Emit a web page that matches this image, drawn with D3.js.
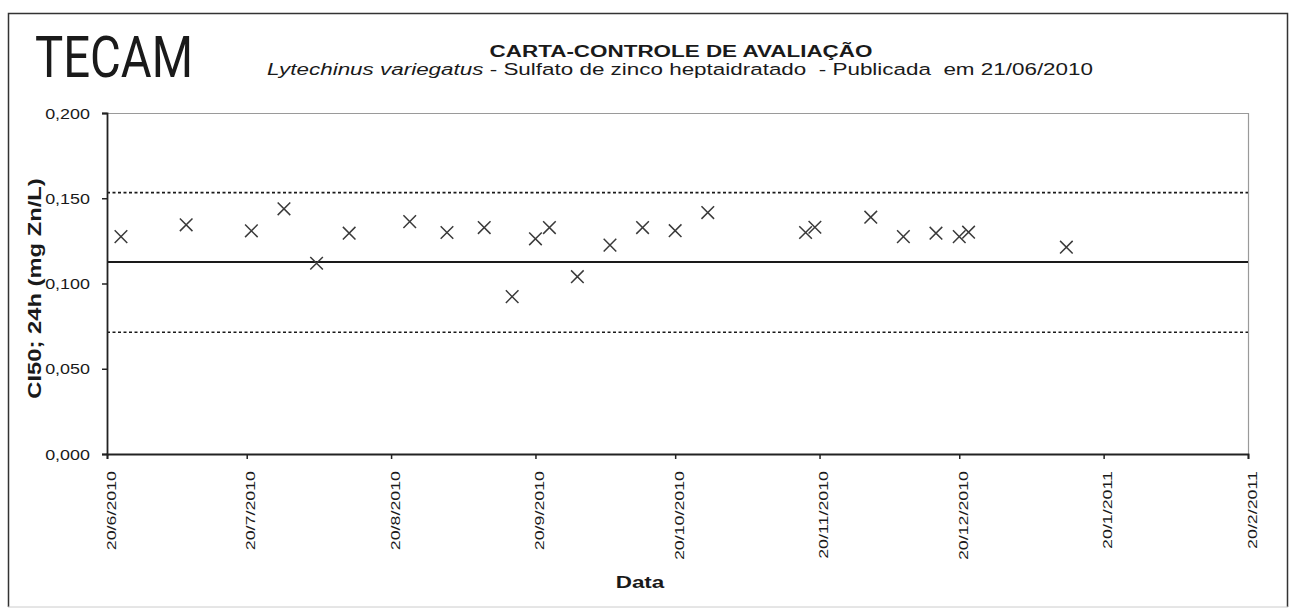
<!DOCTYPE html>
<html>
<head>
<meta charset="utf-8">
<script src="https://d3js.org/d3.v7.min.js"></script>
<style>
  * { margin: 0; padding: 0; box-sizing: border-box; }
  html, body { width: 1294px; height: 614px; background: #fff; overflow: hidden; }
  body { font-family: "Liberation Sans", Arial, sans-serif; }
  svg text { fill: #1a1a1a; }
</style>
</head>
<body>
<div id="chart"></div>
<script>
// test dates (d/m/yyyy) and CI50 results
const testDates = [
  '23/6/2010', '7/7/2010', '21/7/2010', '28/7/2010', '4/8/2010', '11/8/2010',
  '24/8/2010', '1/9/2010', '9/9/2010', '15/9/2010', '20/9/2010', '23/9/2010',
  '29/9/2010', '6/10/2010', '13/10/2010', '20/10/2010', '27/10/2010',
  '17/11/2010', '19/11/2010', '1/12/2010', '8/12/2010', '15/12/2010',
  '20/12/2010', '22/12/2010', '12/1/2011'
];
const ci50Values = [
  0.1275, 0.1344, 0.1309, 0.1438, 0.1119, 0.1295,
  0.1363, 0.1299, 0.1328, 0.0923, 0.1262, 0.1328,
  0.1040, 0.1225, 0.1328, 0.1310, 0.1416,
  0.1299, 0.1330, 0.1389, 0.1275, 0.1295,
  0.1275, 0.1301, 0.1213
];

// control chart lines
const meanValue = 0.1126;
const upperLimit = 0.1533;
const lowerLimit = 0.0714;

const xTickLabels = ['20/6/2010', '20/7/2010', '20/8/2010', '20/9/2010', '20/10/2010',
  '20/11/2010', '20/12/2010', '20/1/2011', '20/2/2011'];
const yTickValues = [0, 0.05, 0.1, 0.15, 0.2];

const parseDate = d3.timeParse('%d/%m/%Y');
const fmtDate = d => `${d.getDate()}/${d.getMonth() + 1}/${d.getFullYear()}`;
const fmtY = d => d3.format('.3f')(d).replace('.', ',');

const width = 1294, height = 614;
const plot = { left: 107, right: 1248, top: 113, bottom: 454 };
const FONT = '"Liberation Sans", Arial, sans-serif';
const WIDE = 1.32; // the scanned fonts run wider than Arial

const svg = d3.select('#chart').append('svg')
  .attr('width', width).attr('height', height);

// outer frame
svg.append('path')
  .attr('d', 'M8.5,607V13.5H1287.5V607')
  .attr('fill', 'none').attr('stroke', '#333').attr('stroke-width', 1.5);
svg.append('line')
  .attr('x1', 8).attr('x2', 1288).attr('y1', 607).attr('y2', 607)
  .attr('stroke', '#ccc').attr('stroke-width', 1);

const tickDates = xTickLabels.map(parseDate);
const x = d3.scaleTime()
  .domain([tickDates[0], tickDates[tickDates.length - 1]])
  .range([plot.left, plot.right]);
const y = d3.scaleLinear().domain([0, 0.2]).range([plot.bottom, plot.top]);

// plot area border (top / right, light)
svg.append('path')
  .attr('d', `M${plot.left},${plot.top + 0.5}H${plot.right + 0.5}V${plot.bottom}`)
  .attr('fill', 'none').attr('stroke', '#9a9a9a').attr('stroke-width', 1.2);

// control lines
const limits = [
  { v: upperLimit, dash: '3,2.5' },
  { v: meanValue, dash: null },
  { v: lowerLimit, dash: '3,2.5' }
];
svg.append('g').selectAll('line').data(limits).join('line')
  .attr('x1', plot.left).attr('x2', plot.right)
  .attr('y1', d => y(d.v)).attr('y2', d => y(d.v))
  .attr('stroke', '#1a1a1a')
  .attr('stroke-width', d => d.dash ? 1.6 : 1.8)
  .attr('stroke-dasharray', d => d.dash);

// axes
const yAxis = svg.append('g')
  .attr('transform', `translate(${plot.left},0)`)
  .call(d3.axisLeft(y).tickValues(yTickValues).tickFormat(fmtY).tickSize(5));
const xAxis = svg.append('g')
  .attr('transform', `translate(0,${plot.bottom})`)
  .call(d3.axisBottom(x).tickValues(tickDates).tickFormat(fmtDate).tickSize(5));

[yAxis, xAxis].forEach(g => {
  g.select('.domain').attr('stroke', '#222').attr('stroke-width', 1.8);
  g.selectAll('.tick line').attr('stroke', '#222').attr('stroke-width', 1.5);
});
yAxis.selectAll('text')
  .attr('font-family', FONT).attr('font-size', 14).attr('fill', '#222')
  .attr('x', 0).attr('dy', '0.36em')
  .attr('transform', `translate(-17,0) scale(${WIDE * 0.97},1)`);
xAxis.selectAll('text')
  .attr('font-family', FONT).attr('font-size', 13.5).attr('fill', '#222')
  .attr('text-anchor', 'end')
  .attr('x', 0).attr('y', 0).attr('dy', '0.6em')
  .attr('transform', `translate(0,17) rotate(-90) scale(${WIDE},1)`);

// points as X markers
const pts = testDates.map((d, i) => ({ date: parseDate(d), value: ci50Values[i] }));
const s = 6.3;
svg.append('g').selectAll('path').data(pts).join('path')
  .attr('d', d => {
    const cx = x(d.date), cy = y(d.value);
    return `M${cx - s},${cy - s}L${cx + s},${cy + s}M${cx - s},${cy + s}L${cx + s},${cy - s}`;
  })
  .attr('stroke', '#3a3a3a').attr('stroke-width', 1.5).attr('fill', 'none');

// logo
svg.append('text')
  .attr('x', 35).attr('y', 77)
  .attr('font-size', 58).attr('font-weight', 400)
  .attr('textLength', 158).attr('lengthAdjust', 'spacingAndGlyphs')
  .style('font-family', 'Roboto, "Liberation Sans", Arial, sans-serif')
  .text('TECAM');

// titles
svg.append('text')
  .attr('transform', `translate(681,57) scale(${WIDE},1)`)
  .attr('text-anchor', 'middle')
  .attr('font-size', 17).attr('font-weight', 'bold')
  .text('CARTA-CONTROLE DE AVALIAÇÃO');

const sub = svg.append('text')
  .attr('transform', `translate(680,75) scale(${WIDE},1)`)
  .attr('text-anchor', 'middle')
  .attr('font-size', 17)
  .style('white-space', 'pre');
sub.append('tspan').attr('font-style', 'italic').text('Lytechinus variegatus');
sub.append('tspan').text(' - Sulfato de zinco heptaidratado  - Publicada  em 21/06/2010');

// axis titles
svg.append('text')
  .attr('transform', `translate(41,${(plot.top + plot.bottom) / 2 + 5}) rotate(-90) scale(${WIDE},1)`)
  .attr('text-anchor', 'middle')
  .attr('font-size', 18).attr('font-weight', 'bold')
  .text('CI50; 24h (mg Zn/L)');

svg.append('text')
  .attr('transform', `translate(640,588) scale(${WIDE},1)`)
  .attr('text-anchor', 'middle')
  .attr('font-size', 17).attr('font-weight', 'bold')
  .text('Data');
</script>
</body>
</html>
